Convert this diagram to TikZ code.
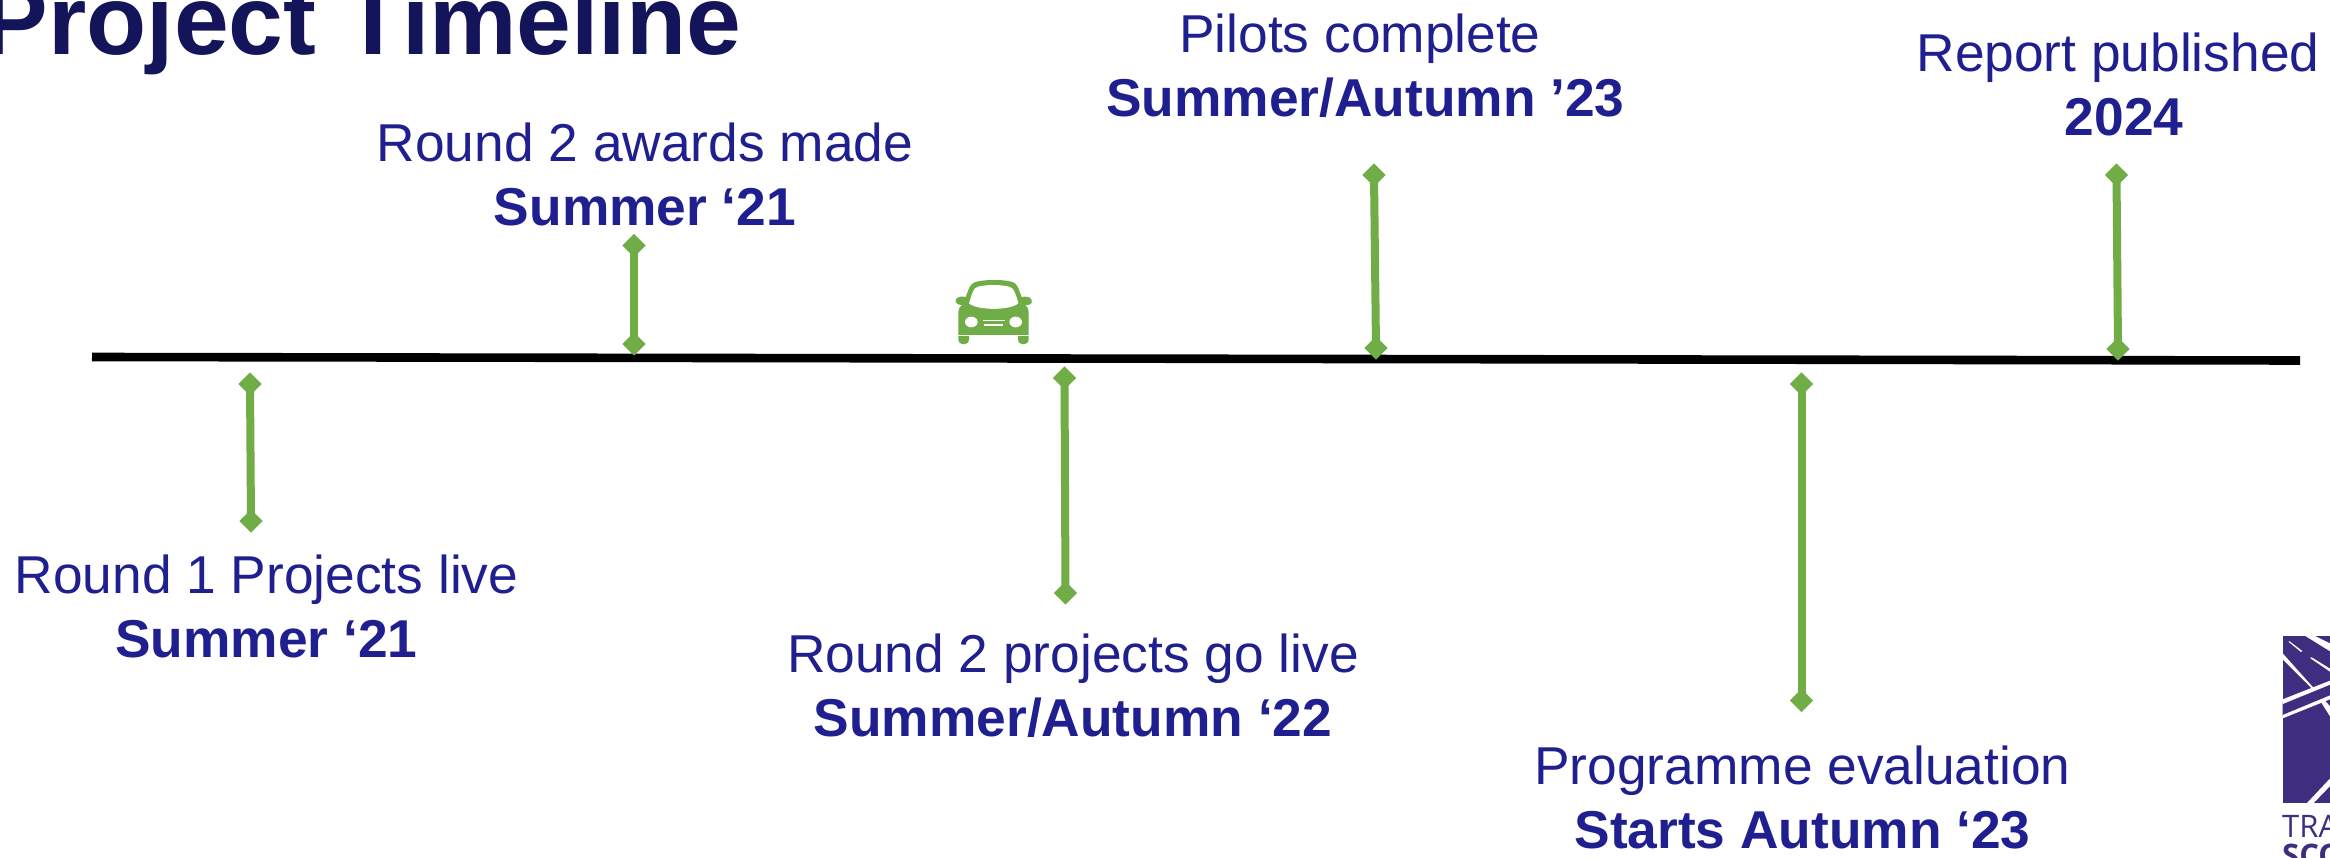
\documentclass[tikz,border=0pt]{standalone}
\usepackage{fontspec}
\setmainfont{Liberation Sans}
\newfontfamily\logofont{Open Sans}
\definecolor{textblue}{HTML}{1F1F8F}
\definecolor{titleblue}{HTML}{14145A}
\definecolor{pingreen}{HTML}{70AD47}
\definecolor{logopurple}{HTML}{3F2E80}
\usetikzlibrary{shapes.geometric}
\tikzset{
  pinend/.style={diamond,fill=pingreen,inner sep=0pt,minimum width=23.5pt,minimum height=23.5pt},
  pinline/.style={draw=pingreen,line width=8pt},
  label/.style={align=center,text=textblue,inner sep=0pt,font=\fontsize{53.3}{64}\selectfont},
  titletext/.style={anchor=base west,inner sep=0pt,text=titleblue,font=\fontsize{98.4}{98}\selectfont\bfseries},
  axisline/.style={draw=black,line width=8.6pt},
}
\begin{document}
\begin{tikzpicture}[x=1pt,y=-1pt]
\useasboundingbox (0,0) rectangle (2330,858);
\clip (0,0) rectangle (2330,858);
\fill[white] (0,0) rectangle (2330,858);
\node[titletext] (title) at (-17.4,55) {Project Timeline};
\coordinate (axisL) at (92,357);
\coordinate (axisR) at (2300,360.5);
\draw[axisline] (axisL) -- (axisR);
% pins
\node[pinend] (a1) at (250,384) {}; \node[pinend] (a2) at (251,521) {};
\node[pinend] (b1) at (634,245.5) {}; \node[pinend] (b2) at (634,344) {};
\node[pinend] (c1) at (1064.5,378) {}; \node[pinend] (c2) at (1065.5,593) {};
\node[pinend] (d1) at (1374,175) {}; \node[pinend] (d2) at (1376,348) {};
\node[pinend] (e1) at (1801.5,384) {}; \node[pinend] (e2) at (1801.5,700.5) {};
\node[pinend] (f1) at (2116.5,175) {}; \node[pinend] (f2) at (2118,349) {};
\draw[pinline] (a1.center)--(a2.center);
\draw[pinline] (b1.center)--(b2.center);
\draw[pinline] (c1.center)--(c2.center);
\draw[pinline] (d1.center)--(d2.center);
\draw[pinline] (e1.center)--(e2.center);
\draw[pinline] (f1.center)--(f2.center);
% labels
\node[label] (la) at (266.5,606) {Round 1 Projects live\\\textbf{Summer ‘21}};
\node[label] (lb) at (645,174) {Round 2 awards made\\\textbf{Summer ‘21}};
\node[label] (lc) at (1073,685.5) {Round 2 projects go live\\\textbf{Summer/Autumn ‘22}};
\node[label] (ld) at (1360,66) {Pilots complete\\\hspace*{11pt}\textbf{Summer/Autumn ’23}};
\node[label] (le) at (1802.5,797.5) {Programme evaluation\\\textbf{Starts Autumn ‘23}};
\node[label] (lf) at (2118,84.5) {Report published\\\hspace*{12pt}\textbf{2024}};
% car
\begin{scope}[shift={(900,250)},scale=1/3]
\fill[pingreen] (175,255) -- (175,185) .. controls (176,175) and (180,170) .. (186,165)
  .. controls (170,166) and (164,155) .. (168,148) .. controls (172,140) and (185,138) .. (197,141)
  -- (207,115) .. controls (213,100) and (225,95) .. (240,93)
  .. controls (265,89) and (300,89) .. (325,93) .. controls (342,95) and (350,102) .. (355,115)
  -- (365,141) .. controls (378,138) and (392,141) .. (395,150) .. controls (398,160) and (390,167) .. (376,165)
  .. controls (382,170) and (386,178) .. (386,185) -- (386,255) -- cycle;
\fill[pingreen] (175,258) -- (207,258) -- (207,268) .. controls (207,288) and (175,288) .. (175,268) -- cycle;
\fill[pingreen] (354,258) -- (386,258) -- (386,268) .. controls (386,288) and (354,288) .. (354,268) -- cycle;
\fill[white] (207,160) .. controls (213,140) and (217,125) .. (225,115) .. controls (232,108) and (260,105) .. (280,105)
  .. controls (300,105) and (330,108) .. (337,115) .. controls (345,125) and (350,140) .. (355,160)
  .. controls (330,182) and (232,182) .. (207,160) -- cycle;
\fill[white] (214,216) ellipse[x radius=19,y radius=16];
\fill[white] (347,216) ellipse[x radius=19,y radius=16];
\fill[white] (249,209) rectangle (315,214);
\fill[white] (251,223) rectangle (310,229);
\end{scope}
% logo
\begin{scope}[shift={(2200,600)},scale=1/3]
\fill[logopurple] (248,108) rectangle (400,610);
\fill[white] (316,108) -- (345,108) -- (400,135) -- (400,160) -- cycle;
\fill[white] (265,125) -- (269,124) -- (307,153) -- (303,156) -- cycle;
\fill[white] (330,174) -- (335,172) -- (400,212) -- (400,222) -- cycle;
\fill[white] (248,160) -- (400,330) -- (400,365) -- (340,270) -- (248,178) -- cycle;
\fill[logopurple] (248,305) -- (400,245) -- (400,288) -- (248,350) -- cycle;
\fill[white] (248,298) -- (400,238) -- (400,250) -- (248,312) -- cycle;
\fill[white] (248,345) -- (400,282) -- (400,294) -- (248,355) -- cycle;
\fill[white] (320,610) -- (400,525) -- (400,548) -- (340,610) -- cycle;
\end{scope}
\node[anchor=base west,inner sep=0pt,text=logopurple,font=\logofont\fontsize{31}{31}\selectfont] (logoa) at (2282,837) {TRA};
\node[anchor=base west,inner sep=0pt,text=logopurple,font=\logofont\fontsize{31}{31}\selectfont\bfseries] (logob) at (2282,866) {SCO};
\end{tikzpicture}
\end{document}
